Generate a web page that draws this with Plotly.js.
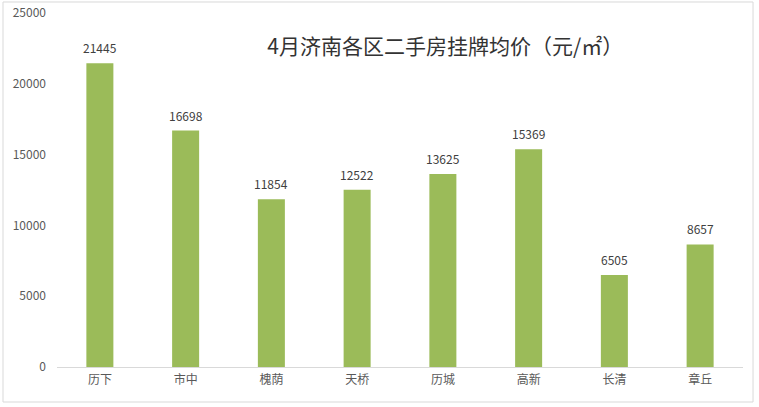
<!DOCTYPE html>
<html><head><meta charset="utf-8">
<script src="https://cdn.plot.ly/plotly-3.0.1.min.js"></script>
<style>html,body{margin:0;padding:0;background:#fff;}#c{width:759px;height:407px;}</style>
</head><body><div id="c"></div>
<script>
const districts = ['历下','市中','槐荫','天桥','历城','高新','长清','章丘'];
const prices = [21445, 16698, 11854, 12522, 13625, 15369, 6505, 8657];
const yTicks = [0, 5000, 10000, 15000, 20000, 25000];
const titleText = '4月济南各区二手房挂牌均价（元/㎡）';

const FONT = '"Noto Sans CJK SC", "Noto Sans", sans-serif';

const trace = {
  type: 'bar', x: districts, y: prices,
  marker: {color: '#9BBB59'},
  width: 0.315, hoverinfo: 'x+y'
};

const annotations = districts.map((d, i) => ({
  x: d, y: prices[i], xref: 'x', yref: 'y', text: String(prices[i]),
  showarrow: false, yanchor: 'bottom', yshift: 5,
  font: {family: FONT, size: 12, color: '#404040'}
}));

const layout = {
  width: 759, height: 407,
  margin: {l: 57, r: 16, t: 13, b: 40},
  paper_bgcolor: '#fff', plot_bgcolor: '#fff',
  showlegend: false,
  title: {text: titleText, x: 0.566, xref: 'paper', xanchor: 'center', y: 0.885, yref: 'container', yanchor: 'middle',
          font: {family: FONT, size: 21, color: '#333333'}},
  xaxis: {type: 'category', showline: true, linecolor: '#d9d9d9', linewidth: 1, ticks: '',
          showgrid: false, zeroline: false, tickfont: {family: FONT, size: 12, color: '#595959'}, ticklabelstandoff: 2},
  yaxis: {range: [0, 25000], tickvals: yTicks, ticktext: yTicks.map(String), showgrid: false, zeroline: false,
          showline: false, ticks: '', ticklabelstandoff: 10, tickfont: {family: FONT, size: 12, color: '#595959'}},
  annotations: annotations,
  shapes: [{type: 'rect', xref: 'paper', yref: 'paper', x0: -0.0787, x1: 1.0146, y0: -0.0989, y1: 1.0311,
            line: {color: '#d9d9d9', width: 1}, fillcolor: 'rgba(0,0,0,0)', layer: 'below'}],
  bargap: 0.685
};

Plotly.newPlot('c', [trace], layout, {displayModeBar: false, staticPlot: true});
</script></body></html>
